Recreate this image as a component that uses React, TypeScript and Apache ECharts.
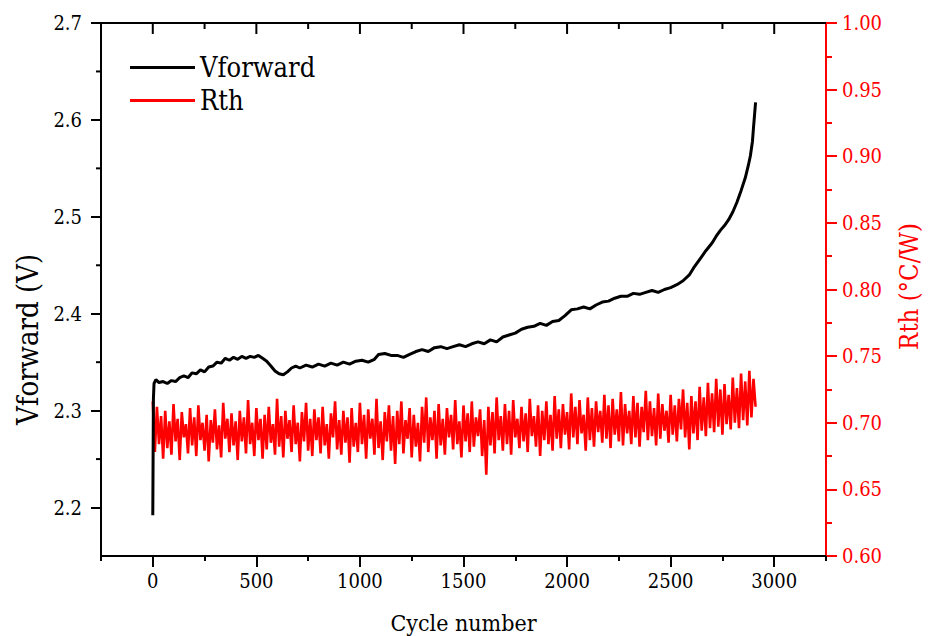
import React, { useEffect, useRef } from "react";
import * as echarts from "echarts";

// Vforward curve (cycle number, volts)
const vCycles = [
  0, 3, 6, 15, 30, 50, 70, 90, 110, 130, 150, 170, 190, 210, 230, 250, 270, 290, 310, 330,
  350, 370, 390, 410, 430, 450, 470, 490, 510, 530, 550, 570, 590, 610, 630, 650, 670, 690, 710, 740,
  770, 800, 830, 860, 890, 920, 950, 980, 1010, 1040, 1070, 1090, 1120, 1150, 1180, 1210, 1240, 1270, 1300, 1330,
  1360, 1390, 1420, 1450, 1480, 1510, 1540, 1570, 1600, 1630, 1660, 1690, 1720, 1750, 1780, 1810, 1840, 1870, 1900, 1930,
  1960, 1990, 2020, 2050, 2080, 2110, 2140, 2170, 2200, 2230, 2260, 2290, 2320, 2350, 2380, 2410, 2440, 2470, 2500, 2530,
  2560, 2590, 2610, 2630, 2650, 2670, 2700, 2720, 2740, 2760, 2780, 2800, 2820, 2840, 2860, 2875, 2885, 2895, 2900, 2905, 2910,
];
const vForward = [
  2.192, 2.312, 2.328, 2.332, 2.329, 2.330, 2.328, 2.331, 2.330, 2.334, 2.336, 2.334, 2.339, 2.338, 2.342, 2.340, 2.345, 2.346, 2.350, 2.349,
  2.354, 2.352, 2.355, 2.353, 2.356, 2.354, 2.356, 2.355, 2.357, 2.354, 2.351, 2.346, 2.341, 2.338, 2.337, 2.340, 2.344, 2.346, 2.344, 2.347,
  2.345, 2.348, 2.346, 2.349, 2.347, 2.350, 2.348, 2.351, 2.352, 2.350, 2.353, 2.358, 2.359, 2.357, 2.357, 2.355, 2.358, 2.361, 2.363, 2.361,
  2.365, 2.366, 2.364, 2.366, 2.368, 2.366, 2.369, 2.371, 2.369, 2.373, 2.371, 2.376, 2.378, 2.380, 2.384, 2.386, 2.387, 2.390, 2.388, 2.392,
  2.393, 2.398, 2.404, 2.405, 2.407, 2.405, 2.409, 2.412, 2.413, 2.416, 2.418, 2.418, 2.421, 2.420, 2.422, 2.424, 2.422, 2.425, 2.427, 2.430,
  2.434, 2.440, 2.447, 2.453, 2.459, 2.465, 2.473, 2.480, 2.486, 2.491, 2.497, 2.505, 2.515, 2.527, 2.540, 2.553, 2.563, 2.578, 2.592, 2.605, 2.618,
];

// Rth samples (one every 10 cycles, starting at cycle 0)
const rthStart = 0;
const rthStep = 10;
const rth = [
  0.716, 0.678, 0.712, 0.684, 0.705, 0.673, 0.709, 0.681, 0.701, 0.676,
  0.714, 0.686, 0.703, 0.672, 0.708, 0.689, 0.699, 0.677, 0.711, 0.683,
  0.704, 0.675, 0.713, 0.687, 0.700, 0.679, 0.706, 0.671, 0.702, 0.685,
  0.710, 0.680, 0.698, 0.674, 0.715, 0.688, 0.703, 0.678, 0.707, 0.683,
  0.701, 0.672, 0.709, 0.686, 0.704, 0.677, 0.717, 0.684, 0.700, 0.675,
  0.711, 0.687, 0.703, 0.673, 0.706, 0.680, 0.712, 0.685, 0.699, 0.676,
  0.718, 0.682, 0.705, 0.674, 0.709, 0.688, 0.702, 0.678, 0.713, 0.684,
  0.700, 0.671, 0.708, 0.686, 0.715, 0.679, 0.703, 0.675, 0.710, 0.687,
  0.704, 0.677, 0.712, 0.683, 0.699, 0.673, 0.707, 0.689, 0.716, 0.680,
  0.702, 0.676, 0.709, 0.685, 0.704, 0.670, 0.711, 0.682, 0.700, 0.678,
  0.715, 0.684, 0.706, 0.673, 0.710, 0.688, 0.703, 0.676, 0.718, 0.681,
  0.701, 0.672, 0.708, 0.686, 0.713, 0.679, 0.705, 0.669, 0.709, 0.684,
  0.716, 0.677, 0.702, 0.688, 0.711, 0.674, 0.706, 0.682, 0.700, 0.671,
  0.712, 0.685, 0.719, 0.678, 0.704, 0.687, 0.709, 0.673, 0.714, 0.683,
  0.703, 0.676, 0.711, 0.689, 0.706, 0.680, 0.717, 0.684, 0.701, 0.674,
  0.713, 0.686, 0.707, 0.678, 0.716, 0.682, 0.704, 0.690, 0.710, 0.675,
  0.702, 0.661, 0.712, 0.683, 0.708, 0.677, 0.719, 0.687, 0.705, 0.679,
  0.714, 0.684, 0.709, 0.676, 0.717, 0.689, 0.703, 0.681, 0.712, 0.686,
  0.707, 0.678, 0.718, 0.690, 0.705, 0.682, 0.713, 0.675, 0.709, 0.687,
  0.716, 0.684, 0.706, 0.679, 0.720, 0.688, 0.710, 0.681, 0.714, 0.691,
  0.708, 0.680, 0.722, 0.689, 0.712, 0.684, 0.717, 0.692, 0.706, 0.679,
  0.719, 0.687, 0.711, 0.682, 0.716, 0.693, 0.709, 0.685, 0.721, 0.688,
  0.713, 0.681, 0.718, 0.691, 0.710, 0.686, 0.723, 0.683, 0.714, 0.692,
  0.709, 0.684, 0.720, 0.689, 0.715, 0.682, 0.712, 0.693, 0.724, 0.687,
  0.716, 0.690, 0.711, 0.683, 0.722, 0.688, 0.714, 0.694, 0.709, 0.685,
  0.721, 0.691, 0.713, 0.686, 0.718, 0.695, 0.725, 0.689, 0.715, 0.680,
  0.720, 0.692, 0.716, 0.687, 0.727, 0.694, 0.719, 0.690, 0.730, 0.696,
  0.722, 0.693, 0.733, 0.697, 0.725, 0.691, 0.729, 0.699, 0.721, 0.695,
  0.734, 0.700, 0.726, 0.696, 0.737, 0.702, 0.731, 0.698, 0.739, 0.704,
  0.733, 0.712,
];

// Tick values
const xMajor = [0, 500, 1000, 1500, 2000, 2500, 3000];
const xMinor = [250, 750, 1250, 1750, 2250, 2750];
const yLeftMajor = [2.2, 2.3, 2.4, 2.5, 2.6, 2.7];
const yLeftMinor = [2.25, 2.35, 2.45, 2.55, 2.65];

const X_MIN = -250;
const X_MAX = 3250;
const X_STEP = 500;
const YL_MIN = 2.15;
const YL_MAX = 2.7;
const YR_MIN = 0.6;
const YR_MAX = 1.0;
const YR_STEP = 0.05;

const FONT = "DejaVu Serif Condensed, DejaVu Serif, serif";
const RED = "#ff0000";

export default function App() {
  const ref = useRef<HTMLDivElement>(null);

  useEffect(() => {
    document.body.style.margin = "0";
    if (!ref.current) return;
    const chart = echarts.init(ref.current, undefined, { renderer: "svg" });

    const vData = vCycles.map((c, i) => [c, vForward[i]]);
    const rData = rth.map((v, i) => [rthStart + i * rthStep, v]);
    const majorSet = new Set(xMajor);
    const topTickData = [...xMajor, ...xMinor].map((v) => [v, YL_MAX]);
    const leftMinorData = yLeftMinor.map((v) => [X_MIN, v]);

    chart.setOption({
      animation: false,
      backgroundColor: "#fff",
      textStyle: { fontFamily: FONT },
      grid: { left: 101, right: 105, top: 23, bottom: 80, containLabel: false, outerBoundsMode: "none" },
      legend: {
        orient: "vertical",
        left: 130,
        top: 54,
        padding: 0,
        itemGap: 6,
        itemWidth: 65,
        itemHeight: 3,
        textStyle: { fontFamily: FONT, fontSize: 27, color: "#000" },
        data: [
          { name: "Vforward", icon: "path://M0,0 H65 V3 H0 Z", itemStyle: { color: "#000" } },
          { name: "Rth", icon: "path://M0,0 H65 V3 H0 Z", itemStyle: { color: RED } },
        ],
      },
      xAxis: [
        {
          type: "value",
          position: "bottom",
          min: X_MIN,
          max: X_MAX,
          interval: X_STEP,
          name: "Cycle number",
          nameLocation: "middle",
          nameGap: 55,
          nameTextStyle: { fontFamily: FONT, fontSize: 23, color: "#000" },
          axisLine: { show: true, onZero: false, lineStyle: { color: "#000", width: 2 } },
          axisTick: { show: true, length: 5, lineStyle: { color: "#000", width: 2 } },
          minorTick: { show: true, splitNumber: 2, length: 11, lineStyle: { color: "#000", width: 2 } },
          axisLabel: {
            show: true,
            customValues: xMajor,
            formatter: (v: number) => String(v),
            fontFamily: FONT,
            fontSize: 20,
            color: "#000",
            margin: 15,
          },
          splitLine: { show: false },
          minorSplitLine: { show: false },
        },
        {
          type: "value",
          position: "top",
          min: X_MIN,
          max: X_MAX,
          axisLine: { show: true, onZero: false, lineStyle: { color: "#000", width: 2 } },
          axisTick: { show: false },
          axisLabel: { show: false },
          splitLine: { show: false },
        },
      ],
      yAxis: [
        {
          type: "value",
          position: "left",
          min: YL_MIN,
          max: YL_MAX,
          name: "Vforward (V)",
          nameLocation: "middle",
          nameGap: 58,
          nameTextStyle: { fontFamily: FONT, fontSize: 29, color: "#000", padding: [0, 100, 0, 0] },
          axisLine: { show: true, onZero: false, lineStyle: { color: "#000", width: 2 } },
          axisTick: { show: true, length: 10, customValues: yLeftMajor, lineStyle: { color: "#000", width: 2 } },
          axisLabel: {
            show: true,
            customValues: yLeftMajor,
            formatter: (v: number) => v.toFixed(1),
            fontFamily: FONT,
            fontSize: 20,
            color: "#000",
            margin: 19,
          },
          splitLine: { show: false },
        },
        {
          type: "value",
          position: "right",
          min: YR_MIN,
          max: YR_MAX,
          interval: YR_STEP,
          name: "Rth (°C/W)",
          nameLocation: "middle",
          nameGap: 70,
          nameRotate: 90,
          nameTextStyle: { fontFamily: FONT, fontSize: 25.5, color: RED, padding: [0, 0, 0, 6] },
          axisLine: { show: true, onZero: false, lineStyle: { color: RED, width: 2 } },
          axisTick: { show: true, length: 11, lineStyle: { color: RED, width: 2 } },
          minorTick: { show: true, splitNumber: 2, length: 6, lineStyle: { color: RED, width: 2 } },
          axisLabel: {
            show: true,
            formatter: (v: number) => v.toFixed(2),
            fontFamily: FONT,
            fontSize: 20,
            color: RED,
            margin: 16,
          },
          splitLine: { show: false },
          minorSplitLine: { show: false },
        },
      ],
      series: [
        {
          name: "Vforward",
          type: "line",
          xAxisIndex: 0,
          yAxisIndex: 0,
          data: vData,
          showSymbol: false,
          symbol: "none",
          color: "#000",
          lineStyle: { color: "#000", width: 3 },
          z: 3,
        },
        {
          name: "Rth",
          type: "line",
          xAxisIndex: 0,
          yAxisIndex: 1,
          data: rData,
          showSymbol: false,
          symbol: "none",
          color: RED,
          lineStyle: { color: RED, width: 2.6 },
          z: 2,
        },
        {
          name: "topTicks",
          type: "custom",
          xAxisIndex: 0,
          yAxisIndex: 0,
          clip: false,
          silent: true,
          z: 10,
          data: topTickData,
          renderItem: (_p: any, api: any) => {
            const v = api.value(0);
            const pt = api.coord([v, YL_MAX]);
            const len = majorSet.has(v) ? 11 : 6;
            return {
              type: "line",
              shape: { x1: pt[0], y1: pt[1], x2: pt[0], y2: pt[1] + len },
              style: { stroke: "#000", lineWidth: 2 },
            };
          },
        },
        {
          name: "leftMinorTicks",
          type: "custom",
          xAxisIndex: 0,
          yAxisIndex: 0,
          clip: false,
          silent: true,
          z: 10,
          data: leftMinorData,
          renderItem: (_p: any, api: any) => {
            const pt = api.coord([X_MIN, api.value(1)]);
            return {
              type: "line",
              shape: { x1: pt[0], y1: pt[1], x2: pt[0] - 5, y2: pt[1] },
              style: { stroke: "#000", lineWidth: 2 },
            };
          },
        },
      ],
    });

    return () => chart.dispose();
  }, []);

  return <div ref={ref} style={{ width: 931, height: 636 }} />;
}
